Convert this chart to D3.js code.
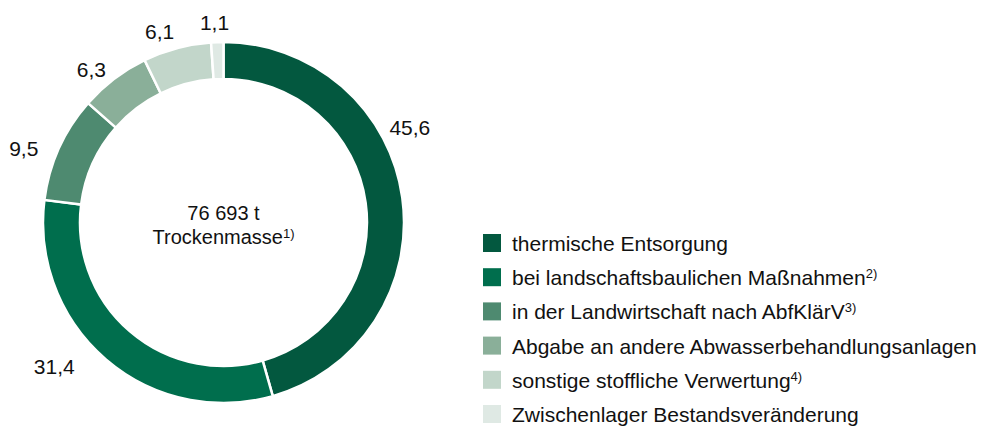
<!DOCTYPE html>
<html>
<head>
<meta charset="utf-8">
<script src="https://cdn.jsdelivr.net/npm/d3@7"></script>
<style>
  body { margin: 0; background: #fff; }
  text { font-family: "Liberation Sans", Arial, sans-serif; fill: #111; }
</style>
</head>
<body>
<div class="main"></div>
<script>
// Klärschlammentsorgung, Anteile in %
const categories = [
  "thermische Entsorgung",
  "bei landschaftsbaulichen Maßnahmen",
  "in der Landwirtschaft nach AbfKlärV",
  "Abgabe an andere Abwasserbehandlungsanlagen",
  "sonstige stoffliche Verwertung",
  "Zwischenlager Bestandsveränderung",
];
const footnotes = ["", "2)", "3)", "", "4)", ""];
const values = [45.6, 31.4, 9.5, 6.3, 6.1, 1.1];
const colors = ["#03583f", "#006e4d", "#4e8a70", "#8aaf99", "#c2d6ca", "#dfe9e4"];
const centerLines = ["76 693 t", "Trockenmasse"];

let fullwidth = 987;
let fullheight = 426;
let cx = 223.5;
let cy = 222.5;
let outer = 180.5;
let inner = 143.5;

const svg = d3
  .select(".main")
  .append("svg")
  .attr("width", fullwidth)
  .attr("height", fullheight);

const data = categories.map((c, i) => ({ name: c, value: values[i], note: footnotes[i] }));

const pie = d3.pie().sort(null).value((d) => d.value);
const arcs = pie(data);

const arc = d3.arc().innerRadius(inner).outerRadius(outer);

const g = svg.append("g").attr("transform", "translate(" + cx + "," + cy + ")");

g.selectAll("path")
  .data(arcs)
  .join("path")
  .attr("d", arc)
  .attr("fill", (d, i) => colors[i])
  .attr("stroke", "#fff")
  .attr("stroke-width", 2.5);

// label placement: radius and angle nudge (deg) per slice, the big slice label sits higher
const labelRadius = [209, 222, 213, 202, 201, 200];
const labelNudge = [-19, 9, -4, -3.6, -3.6, -0.6];

g.selectAll(".val")
  .data(arcs)
  .join("text")
  .attr("class", "val")
  .attr("text-anchor", "middle")
  .attr("dominant-baseline", "central")
  .style("font-size", "21px")
  .attr("x", (d, i) => {
    let a = (d.startAngle + d.endAngle) / 2 + (labelNudge[i] * Math.PI) / 180;
    return labelRadius[i] * Math.sin(a);
  })
  .attr("y", (d, i) => {
    let a = (d.startAngle + d.endAngle) / 2 + (labelNudge[i] * Math.PI) / 180;
    return -labelRadius[i] * Math.cos(a);
  })
  .text((d) => d3.format(".1f")(d.value).replace(".", ","));

// center text
g.append("text")
  .attr("text-anchor", "middle")
  .attr("y", -3)
  .style("font-size", "20px")
  .text(centerLines[0]);

const t2 = g.append("text")
  .attr("text-anchor", "middle")
  .attr("y", 21)
  .style("font-size", "20px");
t2.append("tspan").text(centerLines[1]);
t2.append("tspan").attr("dy", -6).style("font-size", "13px").text("1)");

// legend
const ly = d3.scalePoint().domain(categories).range([234, 405]);
const legend = svg
  .append("g")
  .selectAll("g")
  .data(data)
  .join("g")
  .attr("transform", (d) => "translate(483," + ly(d.name) + ")");

legend
  .append("rect")
  .attr("width", 18)
  .attr("height", 18)
  .attr("fill", (d, i) => colors[i]);

const lt = legend
  .append("text")
  .attr("x", 29)
  .attr("y", 17)
  .style("font-size", "21px");
lt.append("tspan").text((d) => d.name);
lt.append("tspan")
  .attr("dy", -7)
  .style("font-size", "13px")
  .text((d) => d.note);
</script>
</body>
</html>
